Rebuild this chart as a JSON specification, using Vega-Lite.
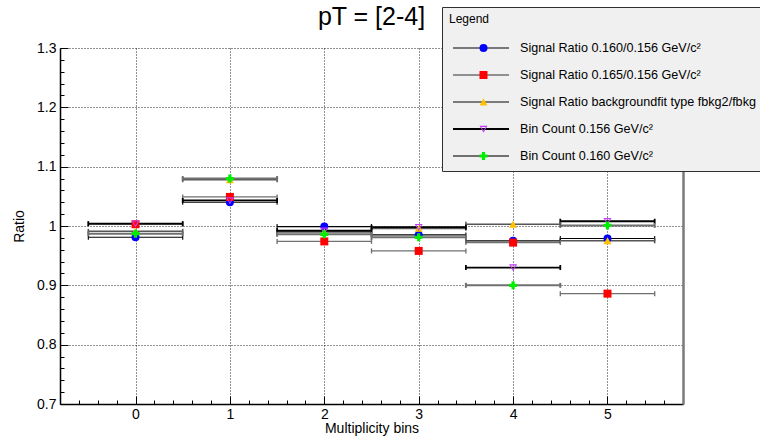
{
  "$schema": "https://vega.github.io/schema/vega-lite/v6.json",
  "width": 623,
  "height": 356,
  "autosize": {"type": "none"},
  "padding": {"left": 60, "top": 48, "right": 77, "bottom": 35},
  "background": "white",
  "config": {"font": "Liberation Sans", "view": {"stroke": null}},
  "title": {
    "text": "pT = [2-4]",
    "font": "Liberation Sans",
    "fontSize": 25,
    "fontWeight": "normal",
    "color": "black",
    "anchor": "middle",
    "frame": "group",
    "baseline": "alphabetic",
    "offset": 14,
    "dy": 57
  },
  "data": {
    "values": [
      {"series": "Signal Ratio 0.160/0.156 GeV/c²", "bin": 0, "lo": -0.5, "hi": 0.5, "ratio": 0.981},
      {"series": "Signal Ratio 0.160/0.156 GeV/c²", "bin": 1, "lo": 0.5, "hi": 1.5, "ratio": 1.040},
      {"series": "Signal Ratio 0.160/0.156 GeV/c²", "bin": 2, "lo": 1.5, "hi": 2.5, "ratio": 0.999},
      {"series": "Signal Ratio 0.160/0.156 GeV/c²", "bin": 3, "lo": 2.5, "hi": 3.5, "ratio": 0.985},
      {"series": "Signal Ratio 0.160/0.156 GeV/c²", "bin": 4, "lo": 3.5, "hi": 4.5, "ratio": 0.975},
      {"series": "Signal Ratio 0.160/0.156 GeV/c²", "bin": 5, "lo": 4.5, "hi": 5.5, "ratio": 0.979},
      {"series": "Signal Ratio 0.165/0.156 GeV/c²", "bin": 0, "lo": -0.5, "hi": 0.5, "ratio": 1.003},
      {"series": "Signal Ratio 0.165/0.156 GeV/c²", "bin": 1, "lo": 0.5, "hi": 1.5, "ratio": 1.049},
      {"series": "Signal Ratio 0.165/0.156 GeV/c²", "bin": 2, "lo": 1.5, "hi": 2.5, "ratio": 0.974},
      {"series": "Signal Ratio 0.165/0.156 GeV/c²", "bin": 3, "lo": 2.5, "hi": 3.5, "ratio": 0.958},
      {"series": "Signal Ratio 0.165/0.156 GeV/c²", "bin": 4, "lo": 3.5, "hi": 4.5, "ratio": 0.972},
      {"series": "Signal Ratio 0.165/0.156 GeV/c²", "bin": 5, "lo": 4.5, "hi": 5.5, "ratio": 0.886},
      {"series": "Signal Ratio backgroundfit type fbkg2/fbkg", "bin": 0, "lo": -0.5, "hi": 0.5, "ratio": 0.991},
      {"series": "Signal Ratio backgroundfit type fbkg2/fbkg", "bin": 1, "lo": 0.5, "hi": 1.5, "ratio": 1.078},
      {"series": "Signal Ratio backgroundfit type fbkg2/fbkg", "bin": 2, "lo": 1.5, "hi": 2.5, "ratio": 0.990},
      {"series": "Signal Ratio backgroundfit type fbkg2/fbkg", "bin": 3, "lo": 2.5, "hi": 3.5, "ratio": 0.996},
      {"series": "Signal Ratio backgroundfit type fbkg2/fbkg", "bin": 4, "lo": 3.5, "hi": 4.5, "ratio": 1.003},
      {"series": "Signal Ratio backgroundfit type fbkg2/fbkg", "bin": 5, "lo": 4.5, "hi": 5.5, "ratio": 0.975},
      {"series": "Bin Count 0.156 GeV/c²", "bin": 0, "lo": -0.5, "hi": 0.5, "ratio": 1.004},
      {"series": "Bin Count 0.156 GeV/c²", "bin": 1, "lo": 0.5, "hi": 1.5, "ratio": 1.043},
      {"series": "Bin Count 0.156 GeV/c²", "bin": 2, "lo": 1.5, "hi": 2.5, "ratio": 0.992},
      {"series": "Bin Count 0.156 GeV/c²", "bin": 3, "lo": 2.5, "hi": 3.5, "ratio": 0.998},
      {"series": "Bin Count 0.156 GeV/c²", "bin": 4, "lo": 3.5, "hi": 4.5, "ratio": 0.930},
      {"series": "Bin Count 0.156 GeV/c²", "bin": 5, "lo": 4.5, "hi": 5.5, "ratio": 1.008},
      {"series": "Bin Count 0.160 GeV/c²", "bin": 0, "lo": -0.5, "hi": 0.5, "ratio": 0.987},
      {"series": "Bin Count 0.160 GeV/c²", "bin": 1, "lo": 0.5, "hi": 1.5, "ratio": 1.080},
      {"series": "Bin Count 0.160 GeV/c²", "bin": 2, "lo": 1.5, "hi": 2.5, "ratio": 0.986},
      {"series": "Bin Count 0.160 GeV/c²", "bin": 3, "lo": 2.5, "hi": 3.5, "ratio": 0.981},
      {"series": "Bin Count 0.160 GeV/c²", "bin": 4, "lo": 3.5, "hi": 4.5, "ratio": 0.900},
      {"series": "Bin Count 0.160 GeV/c²", "bin": 5, "lo": 4.5, "hi": 5.5, "ratio": 1.001}
    ]
  },
  "layer": [
    {
      "mark": {"type": "rule"},
      "encoding": {
        "x": {
          "field": "lo", "type": "quantitative",
          "scale": {"domain": [-0.8, 5.8], "nice": false, "zero": false},
          "axis": {
            "orient": "bottom",
            "title": "Multiplicity bins",
            "titleFont": "Liberation Sans", "titleFontSize": 14, "titleFontWeight": "normal", "titleColor": "black",
            "titleBaseline": "top", "titleY": 17, "titleAlign": "center",
            "values": [-0.8, -0.6, -0.4, -0.2, 0, 0.2, 0.4, 0.6, 0.8, 1, 1.2, 1.4, 1.6, 1.8, 2, 2.2, 2.4, 2.6, 2.8, 3, 3.2, 3.4, 3.6, 3.8, 4, 4.2, 4.4, 4.6, 4.8, 5, 5.2, 5.4, 5.6, 5.8],
            "labelExpr": "abs(datum.value - round(datum.value)) < 0.001 ? format(datum.value, 'd') : ''",
            "labelFont": "Liberation Sans", "labelFontSize": 14, "labelColor": "black",
            "labelPadding": 11, "labelOverlap": false, "labelFlush": false,
            "tickSize": {"condition": {"test": "abs(datum.value - round(datum.value)) < 0.001", "value": -8}, "value": -4},
            "tickColor": "black", "tickWidth": 1,
            "domainColor": "black", "domainWidth": 1.5,
            "grid": true, "gridColor": "#222222", "gridDash": [1, 2], "gridWidth": 1,
            "gridOpacity": {"condition": {"test": "abs(datum.value - round(datum.value)) < 0.001 && datum.value > -0.5 && datum.value < 5.5", "value": 1}, "value": 0}
          }
        },
        "x2": {"field": "hi"},
        "y": {
          "field": "ratio", "type": "quantitative",
          "scale": {"domain": [0.7, 1.3], "nice": false, "zero": false},
          "axis": {
            "orient": "left",
            "title": "Ratio",
            "titleFont": "Liberation Sans", "titleFontSize": 14, "titleFontWeight": "normal", "titleColor": "black",
            "titlePadding": 10,
            "values": [0.7, 0.72, 0.74, 0.76, 0.78, 0.8, 0.82, 0.84, 0.86, 0.88, 0.9, 0.92, 0.94, 0.96, 0.98, 1, 1.02, 1.04, 1.06, 1.08, 1.1, 1.12, 1.14, 1.16, 1.18, 1.2, 1.22, 1.24, 1.26, 1.28, 1.3],
            "labelExpr": "abs(datum.value * 10 - round(datum.value * 10)) < 0.001 ? format(datum.value, '~g') : ''",
            "labelFont": "Liberation Sans", "labelFontSize": 14, "labelColor": "black",
            "labelPadding": 12, "labelOverlap": false, "labelFlush": false,
            "tickSize": {"condition": {"test": "abs(datum.value * 10 - round(datum.value * 10)) < 0.001", "value": -8}, "value": -4},
            "tickColor": "black", "tickWidth": 1,
            "domainColor": "black", "domainWidth": 1.5,
            "grid": true, "gridColor": "#222222", "gridDash": [1, 2], "gridWidth": 1,
            "gridOpacity": {"condition": {"test": "abs(datum.value * 10 - round(datum.value * 10)) < 0.001 && datum.value > 0.75", "value": 1}, "value": 0}
          }
        },
        "stroke": {
          "field": "series", "type": "nominal",
          "scale": {
            "domain": ["Signal Ratio 0.160/0.156 GeV/c²", "Signal Ratio 0.165/0.156 GeV/c²", "Signal Ratio backgroundfit type fbkg2/fbkg", "Bin Count 0.156 GeV/c²", "Bin Count 0.160 GeV/c²"],
            "range": ["#000000", "#707070", "#555555", "#000000", "#707070"]
          },
          "legend": {
            "orient": "none", "legendX": 382, "legendY": -41,
            "title": "Legend",
            "titleFont": "Liberation Sans", "titleFontSize": 12, "titleFontWeight": "normal", "titleColor": "black",
            "titlePadding": 14,
            "padding": 7,
            "fillColor": "#f0f0f0", "strokeColor": "#303030",
            "symbolType": "M-1,0L1,0", "symbolSize": 3136, "symbolStrokeWidth": 1.5, "symbolOffset": 3,
            "labelFont": "Liberation Sans", "labelFontSize": 12.6, "labelColor": "black",
            "labelOffset": 10, "labelLimit": 500,
            "clipHeight": 16, "rowPadding": 11
          }
        },
        "strokeWidth": {
          "field": "series", "type": "ordinal",
          "scale": {
            "domain": ["Signal Ratio 0.160/0.156 GeV/c²", "Signal Ratio 0.165/0.156 GeV/c²", "Signal Ratio backgroundfit type fbkg2/fbkg", "Bin Count 0.156 GeV/c²", "Bin Count 0.160 GeV/c²"],
            "range": [1.1, 2, 2, 1.1, 2]
          },
          "legend": null
        }
      }
    },
    {
      "mark": {"type": "rule", "yOffset": -2.5, "y2Offset": 2.5},
      "encoding": {
        "x": {"field": "lo", "type": "quantitative", "axis": null},
        "y": {"field": "ratio", "type": "quantitative", "axis": null},
        "y2": {"field": "ratio"},
        "stroke": {"field": "series", "type": "nominal", "legend": null},
        "strokeWidth": {"field": "series", "type": "ordinal", "legend": null}
      }
    },
    {
      "mark": {"type": "rule", "yOffset": -2.5, "y2Offset": 2.5},
      "encoding": {
        "x": {"field": "hi", "type": "quantitative", "axis": null},
        "y": {"field": "ratio", "type": "quantitative", "axis": null},
        "y2": {"field": "ratio"},
        "stroke": {"field": "series", "type": "nominal", "legend": null},
        "strokeWidth": {"field": "series", "type": "ordinal", "legend": null}
      }
    },
    {
      "mark": {"type": "point", "filled": true, "size": 64, "opacity": 1, "strokeWidth": 0},
      "encoding": {
        "x": {"field": "bin", "type": "quantitative", "axis": null},
        "y": {
          "field": "ratio", "type": "quantitative",
          "axis": {"orient": "right", "title": null, "labels": false, "ticks": false, "grid": false, "domainColor": "#7a7a7a", "domainWidth": 2.5}
        },
        "color": {
          "field": "series", "type": "nominal",
          "sort": null,
          "scale": {"range": ["#0000ff", "#ff0000", "#ffc000", "#c43cf5", "#00ee00"]},
          "legend": {
            "orient": "none", "legendX": 382, "legendY": -15,
            "title": null,
            "padding": 7,
            "symbolSize": 64, "symbolStrokeWidth": 0, "symbolOffset": 28,
            "labelExpr": "''", "labelFontSize": 13, "labelOffset": 12,
            "clipHeight": 16, "rowPadding": 11
          }
        },
        "shape": {
          "field": "series", "type": "nominal",
          "sort": null,
          "scale": {"range": ["circle", "square", "triangle-up", "M-1,-0.8L1,-0.8L0,0.95Z M-0.55,-0.52L0,0.45L0.55,-0.52Z", "cross"]},
          "legend": {
            "orient": "none", "legendX": 382, "legendY": -15,
            "title": null,
            "padding": 7,
            "symbolSize": 64, "symbolStrokeWidth": 0, "symbolOffset": 28,
            "labelExpr": "''", "labelFontSize": 13, "labelOffset": 12,
            "clipHeight": 16, "rowPadding": 11
          }
        }
      }
    }
  ],
  "resolve": {"axis": {"x": "independent", "y": "independent"}}
}
